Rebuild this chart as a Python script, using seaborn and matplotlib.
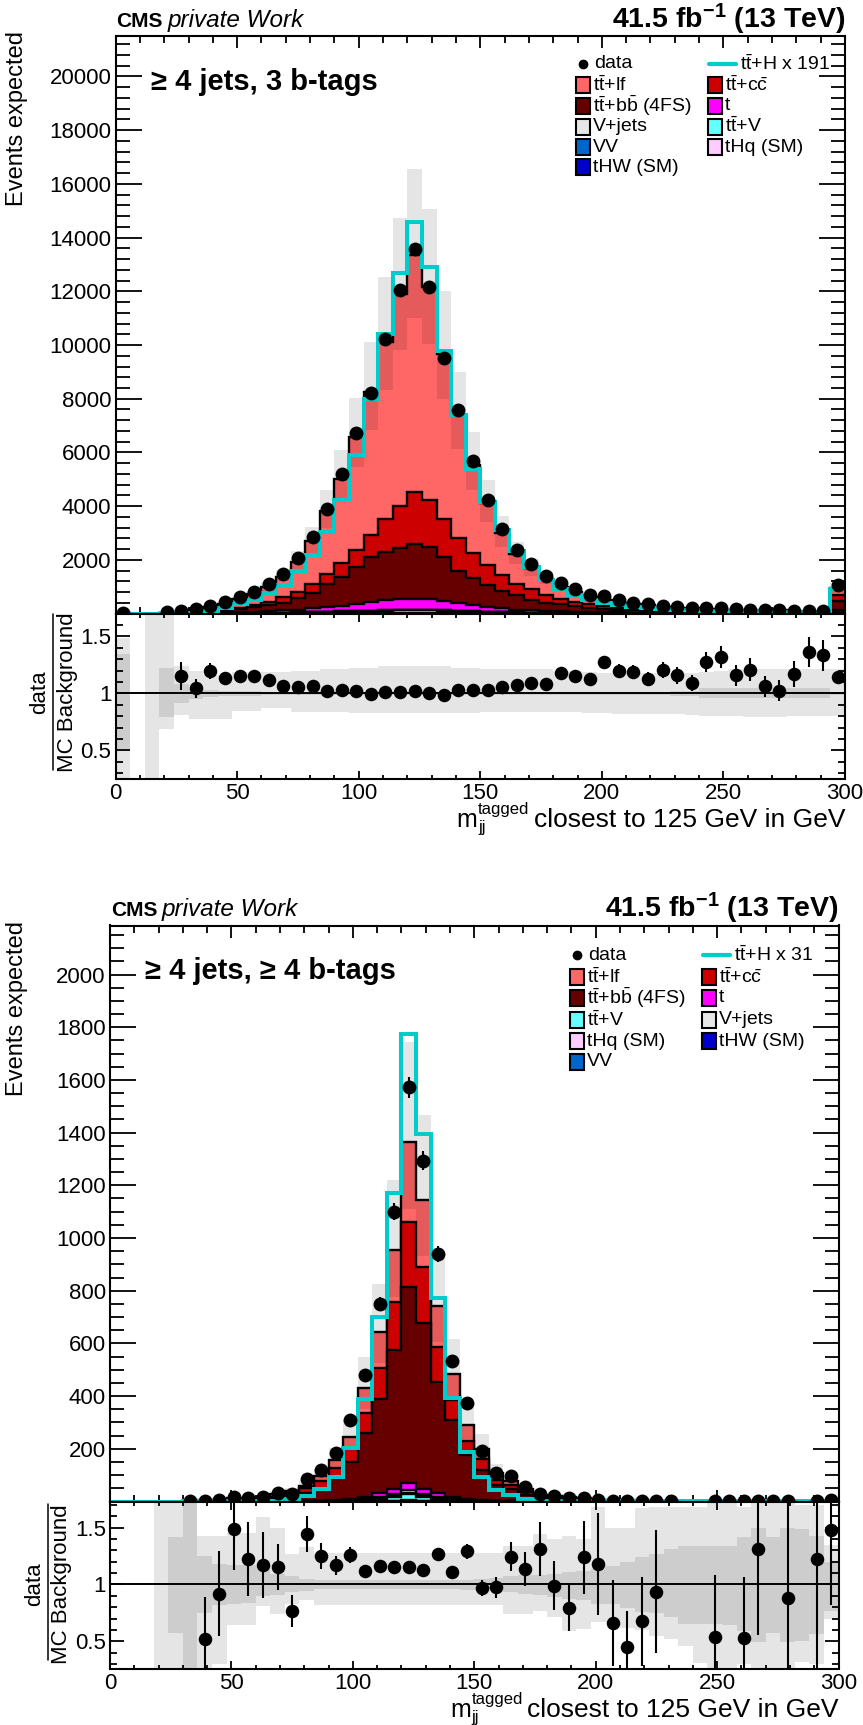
import numpy as np
import matplotlib
matplotlib.use('Agg')
import matplotlib.pyplot as plt
from matplotlib import font_manager
from matplotlib.patches import Rectangle
from matplotlib.ticker import MultipleLocator, FixedLocator, FuncFormatter
import seaborn as sns

sns.set_style('ticks')
names = {f.name for f in font_manager.fontManager.ttflist}
narrow = 'Liberation Sans Narrow' if 'Liberation Sans Narrow' in names else 'Liberation Sans'
plt.rcParams['font.family'] = [narrow, 'DejaVu Sans']
plt.rcParams['mathtext.fontset'] = 'custom'
plt.rcParams['mathtext.rm'] = narrow
plt.rcParams['mathtext.it'] = narrow + ':italic'
plt.rcParams['mathtext.bf'] = narrow + ':bold'
plt.rcParams.update({'axes.edgecolor': 'black', 'xtick.color': 'black', 'ytick.color': 'black',
                     'text.color': 'black', 'axes.labelcolor': 'black'})

edges = np.arange(0, 301, 6)
centers = edges[:-1] + 3.0

# --- >= 4 jets, 3 b-tags ---
data_3b = [12, 0, 0, 50, 90, 160, 285, 420, 607, 818,
           1103, 1462, 2057, 2862, 3878, 5191, 6715, 8227, 10222, 12031,
           13580, 12155, 9528, 7570, 5675, 4213, 3160, 2379, 1834, 1400,
           1152, 905, 706, 644, 496, 409, 347, 285, 248, 225,
           205, 190, 160, 145, 135, 120, 110, 105, 92, 1078]
ttlf_3b = [3, 0, 2, 15, 53, 108, 163, 230, 303, 390,
           553, 771, 1121, 1594, 2328, 3134, 4198, 5328, 6595, 7886,
           8830, 7930, 6167, 4578, 3288, 2306, 1572, 1097, 776, 594,
           422, 352, 280, 231, 190, 154, 147, 96, 94, 101,
           66, 59, 63, 54, 67, 62, 44, 32, 29, 262]
ttcc_3b = [0, 0, 0, 2, 7, 12, 20, 40, 62, 87,
           112, 198, 248, 347, 371, 521, 644, 830, 1201, 1574,
           1933, 1735, 1412, 1202, 905, 725, 580, 440, 390, 290,
           211, 161, 136, 100, 73, 60, 45, 40, 30, 25,
           23, 20, 17, 14, 12, 11, 10, 9, 7, 210]
ttbb_3b = [1, 0, 1, 2, 6, 13, 25, 55, 101, 160,
           227, 289, 420, 566, 853, 1075, 1352, 1664, 1815, 1898,
           2017, 1950, 1614, 1198, 1018, 825, 650, 530, 400, 310,
           262, 203, 151, 121, 105, 90, 79, 68, 61, 54,
           48, 43, 38, 34, 31, 28, 26, 23, 21, 321]
t_3b = [0, 0, 0, 1, 8, 13, 20, 32, 42, 52,
        66, 84, 106, 135, 182, 218, 272, 316, 362, 393,
        418, 403, 356, 293, 232, 178, 133, 104, 83, 70,
        60, 49, 43, 37, 32, 28, 25, 23, 21, 18,
        17, 15, 14, 12, 11, 11, 10, 9, 8, 100]
ttv_3b = [0, 0, 0, 0, 3, 6, 9, 11, 15, 18,
          23, 29, 35, 45, 55, 67, 81, 94, 106, 113,
          117, 113, 102, 88, 72, 58, 47, 37, 30, 24,
          20, 18, 15, 13, 12, 11, 10, 8, 7, 7,
          6, 6, 5, 5, 5, 4, 4, 4, 4, 42]
vjets_3b = [0, 0, 0, 0, 1, 1, 1, 2, 2, 3,
            3, 4, 5, 6, 7, 8, 10, 11, 12, 13,
            14, 13, 12, 11, 9, 7, 6, 5, 4, 3,
            3, 2, 2, 2, 1, 1, 1, 1, 1, 1,
            1, 1, 1, 1, 1, 1, 0, 0, 0, 5]
thq_3b = [0, 0, 0, 0, 0, 0, 0, 0, 1, 1,
          1, 1, 2, 2, 2, 3, 3, 4, 4, 5,
          5, 5, 4, 4, 3, 3, 2, 2, 1, 1,
          1, 1, 0, 0, 0, 0, 0, 0, 0, 0,
          0, 0, 0, 0, 0, 0, 0, 0, 0, 1]
vv_3b = [0, 0, 0, 0, 0, 0, 0, 0, 0, 1,
         1, 1, 1, 1, 2, 2, 2, 2, 3, 3,
         3, 3, 3, 2, 2, 2, 1, 1, 1, 1,
         1, 0, 0, 0, 0, 0, 0, 0, 0, 0,
         0, 0, 0, 0, 0, 0, 0, 0, 0, 1]
thw_3b = [0, 0, 0, 0, 0, 0, 0, 0, 0, 0,
          1, 1, 1, 1, 2, 2, 2, 3, 3, 3,
          3, 3, 3, 2, 2, 2, 1, 1, 1, 1,
          0, 0, 0, 0, 0, 0, 0, 0, 0, 0,
          0, 0, 0, 0, 0, 0, 0, 0, 0, 1]
tth_3b = [0, 0, 0, 0, 12, 37, 99, 223, 359, 508,
          756, 1065, 1598, 2181, 3048, 4225, 5898, 8004, 10420, 12675,
          14571, 12923, 9776, 7384, 5402, 4151, 3098, 2329, 1750, 1239,
          929, 681, 520, 397, 310, 248, 211, 173, 150, 124,
          112, 100, 90, 80, 75, 70, 65, 60, 55, 929]
# relative uncertainty bands (total, stat-only)
up_3b = [1.485, 1, 2, 2, 1.245, 1.195, 1.16, 1.16, 1.19, 1.19,
         1.19, 1.19, 1.2, 1.2, 1.21, 1.21, 1.225, 1.225, 1.24, 1.24,
         1.24, 1.24, 1.24, 1.22, 1.22, 1.215, 1.215, 1.21, 1.21, 1.21,
         1.2, 1.2, 1.19, 1.18, 1.18, 1.18, 1.18, 1.18, 1.18, 1.18,
         1.19, 1.2, 1.21, 1.21, 1.21, 1.21, 1.21, 1.21, 1.21, 1.21]
dn_3b = [0, 1, 0, 0.69, 0.81, 0.78, 0.78, 0.78, 0.85, 0.85,
         0.87, 0.87, 0.84, 0.84, 0.835, 0.835, 0.83, 0.83, 0.825, 0.825,
         0.825, 0.825, 0.825, 0.83, 0.83, 0.835, 0.835, 0.84, 0.84, 0.84,
         0.84, 0.84, 0.83, 0.83, 0.82, 0.82, 0.82, 0.82, 0.82, 0.81,
         0.8, 0.8, 0.8, 0.79, 0.79, 0.79, 0.8, 0.8, 0.8, 0.8]
su_3b = [1.35, 1, 1, 1.22, 1.086, 1.04, 1.03, 1.025, 1.02, 1.02,
         1.015, 1.015, 1.01, 1.01, 1.01, 1.01, 1.01, 1.01, 1.01, 1.01,
         1.01, 1.01, 1.01, 1.01, 1.01, 1.01, 1.01, 1.01, 1.01, 1.01,
         1.01, 1.015, 1.015, 1.015, 1.015, 1.015, 1.015, 1.015, 1.025, 1.025,
         1.05, 1.05, 1.05, 1.05, 1.05, 1.05, 1.05, 1.05, 1.05, 1.015]
sd_3b = [0.51, 1, 1, 0.79, 0.914, 0.955, 0.97, 0.975, 0.98, 0.98,
         0.985, 0.985, 0.99, 0.99, 0.99, 0.99, 0.99, 0.99, 0.99, 0.99,
         0.99, 0.99, 0.99, 0.99, 0.99, 0.99, 0.99, 0.99, 0.99, 0.99,
         0.99, 0.985, 0.985, 0.985, 0.985, 0.985, 0.985, 0.985, 0.975, 0.975,
         0.96, 0.96, 0.96, 0.96, 0.96, 0.96, 0.96, 0.96, 0.96, 0.985]

# --- >= 4 jets, >= 4 b-tags ---
data_4b = [0, 0, 0, 0, 0, 2, 2, 6, 17, 14,
           16, 32, 30, 85, 120, 185, 310, 480, 750, 1100,
           1572, 1294, 938, 534, 375, 193, 107, 95, 55, 30,
           21, 15, 15, 7, 3, 2, 3, 3, 1, 0,
           0, 1, 1, 1, 3, 1, 1, 0, 1, 5]
ttlf_4b = [0, 0, 0, 0, 0, 0.2, 1.4, 2.1, 3.5, 3.1,
           3.8, 11.9, 8.4, 9.4, 16.7, 30.8, 41.2, 94.3, 137.8, 195,
           301, 254, 153.5, 97.8, 59.5, 39.4, 28.3, 14.7, 11.6, 5,
           4.3, 4, 2.6, 1.2, 1.0, 1.0, 1.0, 0.7, 0.1, 0.5,
           0.4, 0.37, 0.1, 0.4, 0.5, 0.1, 0.25, 0.2, 0.19, 0.74]
ttcc_4b = [0, 0, 0, 0, 0, 0.1, 0.7, 1.3, 2.5, 2.5,
           3, 8, 13, 19, 30, 40, 54, 76, 118, 184,
           249, 212, 133, 76, 54, 40, 19, 14, 12, 6,
           5, 4, 2.5, 1.3, 0.9, 0.9, 0.9, 0.6, 0.1, 0.5,
           0.4, 0.4, 0.1, 0.4, 0.5, 0.1, 0.25, 0.2, 0.15, 0.7]
ttbb_4b = [0, 0, 0, 0, 0, 0.2, 1.6, 2.9, 5.1, 5.5,
           6.4, 7.2, 16.8, 29, 47, 83, 142, 241, 357, 529,
           744, 633, 424, 291, 168, 115, 60, 46, 23.8, 11.2,
           11.4, 10.5, 6.6, 3.2, 2.5, 2.4, 2.4, 1.75, 0.15, 1.4,
           1.1, 1.0, 0.1, 1.0, 1.2, 0.1, 0.55, 0.5, 0.4, 1.8]
t_4b = [0, 0, 0, 0, 0, 0, 0.1, 0.15, 0.2, 0.25,
        0.3, 0.4, 0.6, 1, 1.5, 2.5, 4.5, 8, 13, 19,
        27, 19, 13, 8, 4.5, 2.5, 1.5, 1, 0.6, 0.4,
        0.3, 0.25, 0.2, 0.15, 0.1, 0.1, 0.1, 0.1, 0.05, 0.05,
        0.05, 0.05, 0.05, 0.05, 0.05, 0.05, 0.05, 0.05, 0.05, 0.1]
ttv_4b = [0, 0, 0, 0, 0, 0, 0.05, 0.08, 0.1, 0.12,
          0.15, 0.2, 0.3, 0.5, 0.8, 1.3, 2.3, 5, 9, 14,
          21, 14, 9, 5, 2.3, 1.3, 0.8, 0.5, 0.3, 0.2,
          0.15, 0.12, 0.1, 0.08, 0.05, 0.05, 0.05, 0.05, 0.03, 0.03,
          0.03, 0.03, 0.03, 0.03, 0.03, 0.03, 0.03, 0.03, 0.03, 0.05]
thq_4b = [0, 0, 0, 0, 0, 0, 0, 0, 0, 0,
          0, 0, 0, 0, 0, 0.5, 1, 2.5, 4.5, 7,
          9, 7, 4.5, 2.5, 1, 0.5, 0.3, 0.2, 0.1, 0.1,
          0.1, 0.1, 0.1, 0, 0, 0, 0, 0, 0, 0,
          0, 0, 0, 0, 0, 0, 0, 0, 0, 0]
vjets_4b = [0, 0, 0, 0, 0, 0, 0, 0, 0, 0,
            0, 0, 0, 0, 0, 0.3, 0.7, 1.5, 2.5, 3.5,
            6, 3.5, 2.5, 1.5, 0.7, 0.3, 0, 0, 0, 0,
            0, 0, 0, 0, 0, 0, 0, 0, 0, 0,
            0, 0, 0, 0, 0, 0, 0, 0, 0, 0]
vv_4b = [0, 0, 0, 0, 0, 0, 0, 0, 0, 0,
         0, 0, 0, 0, 0, 0, 0, 0.5, 1, 1.5,
         3, 1.5, 1, 0.5, 0, 0, 0, 0, 0, 0,
         0, 0, 0, 0, 0, 0, 0, 0, 0, 0,
         0, 0, 0, 0, 0, 0, 0, 0, 0, 0]
thw_4b = [0, 0, 0, 0, 0, 0, 0, 0, 0, 0,
          0, 0, 0, 0, 0, 0, 0, 0.5, 1, 1,
          3, 1, 1, 0.5, 0, 0, 0, 0, 0, 0,
          0, 0, 0, 0, 0, 0, 0, 0, 0, 0,
          0, 0, 0, 0, 0, 0, 0, 0, 0, 0]
tth_4b = [0, 0, 0, 0, 0, 0.3, 0.4, 0.5, 0.7, 1,
          1.5, 2, 9, 21, 46, 94, 202, 388, 701, 1172,
          1773, 1393, 771, 394, 186, 92, 44, 25, 9, 3,
          2, 1.5, 1, 1, 0.8, 0.6, 0.5, 0.5, 0.5, 0.5,
          0.5, 0.5, 0.5, 0.5, 0.5, 0.5, 0.5, 0.5, 0.5, 0.5]
up_4b = [1, 1, 1, 2, 2, 2, 1.43, 1.43, 1.45, 1.45,
         1.59, 1.5, 1.27, 1.33, 1.28, 1.28, 1.28, 1.28, 1.28, 1.28,
         1.28, 1.28, 1.28, 1.28, 1.28, 1.28, 1.28, 1.34, 1.34, 1.44,
         1.40, 1.43, 1.40, 1.68, 1.5, 1.5, 1.67, 1.68, 1.68, 1.68,
         1.68, 2, 2, 1.68, 2, 2, 2, 1.7, 1.7, 1.35]
dn_4b = [1, 1, 1, 0, 0, 0, 0, 0.3, 0.64, 0.64,
         0.81, 0.74, 0.83, 0.86, 0.815, 0.815, 0.815, 0.815, 0.815, 0.815,
         0.815, 0.815, 0.815, 0.815, 0.815, 0.815, 0.815, 0.74, 0.74, 0.77,
         0.71, 0.59, 0.61, 0.67, 0.67, 0.62, 0.6, 0.55, 0.52, 0.46,
         0.31, 0, 0, 0.3, 0, 0, 0, 0.32, 0.3, 0.7]
su_4b = [1, 1, 1, 1, 1.42, 2, 1.25, 1.18, 1.17, 1.17,
         1.15, 1.09, 1.07, 1.05, 1.035, 1.035, 1.035, 1.035, 1.035, 1.035,
         1.035, 1.035, 1.035, 1.035, 1.04, 1.045, 1.06, 1.07, 1.08, 1.08,
         1.09, 1.11, 1.12, 1.14, 1.16, 1.2, 1.24, 1.27, 1.31, 1.34,
         1.34, 1.34, 1.34, 1.42, 1.5, 1.42, 1.5, 1.49, 1.43, 1.2]
sd_4b = [1, 1, 1, 1, 0.57, 0, 0.75, 0.82, 0.83, 0.84,
         0.9, 0.91, 0.93, 0.94, 0.96, 0.96, 0.96, 0.96, 0.96, 0.96,
         0.96, 0.96, 0.96, 0.96, 0.955, 0.95, 0.94, 0.93, 0.92, 0.91,
         0.89, 0.87, 0.86, 0.83, 0.83, 0.79, 0.76, 0.75, 0.71, 0.65,
         0.65, 0.65, 0.64, 0.59, 0.49, 0.57, 0.49, 0.5, 0.56, 0.77]

colors = {'ttlf': '#ff6666', 'ttcc': '#cc0000', 'ttbb': '#660000', 't': '#ff00ff',
          'ttv': '#66ffff', 'vjets': '#e6e6e6', 'thq': '#ffccff', 'vv': '#0066cc',
          'thw': '#0000cc'}
order = ['thw', 'vv', 'ttv', 'vjets', 'thq', 't', 'ttbb', 'ttcc', 'ttlf']
labels = {'ttlf': r'$\mathrm{t\bar{t}}$+lf', 'ttcc': r'$\mathrm{t\bar{t}}$+$\mathrm{c\bar{c}}$',
          'ttbb': r'$\mathrm{t\bar{t}}$+$\mathrm{b\bar{b}}$ (4FS)', 't': 't',
          'ttv': r'$\mathrm{t\bar{t}}$+V', 'vjets': 'V+jets', 'thq': 'tHq (SM)',
          'vv': 'VV', 'thw': 'tHW (SM)'}
CYAN = '#00cccc'


def draw_panel(ax, rax, comps, tth, data, up, dn, su, sd, ymax, ystep, yminor, rlim):
    run = np.zeros(len(centers))
    cum = []
    for name in order:
        run = run + np.asarray(comps[name], float)
        cum.append((name, run.copy()))
    total = run
    # ROOT-like stack: draw cumulative histograms from the top one down
    for j, (name, top) in enumerate(reversed(cum)):
        z = 2 + 0.01 * j
        ax.stairs(top, edges, baseline=0, fill=True, color=colors[name], lw=0, zorder=z)
        ax.stairs(top, edges, baseline=None, color='black', lw=1.7, zorder=z + 0.005)
    up = np.asarray(up, float); dn = np.asarray(dn, float)
    ax.stairs(total * up, edges, baseline=total * dn, fill=True, color=(0, 0, 0, 0.1),
              lw=0, zorder=4)
    ax.stairs(np.asarray(tth, float), edges, baseline=None, color=CYAN, lw=2.9, zorder=5)
    data = np.asarray(data, float)
    m = data > 0
    ax.errorbar(centers[m], data[m], yerr=np.sqrt(data[m]), fmt='none', ecolor='black',
                elinewidth=1.5, zorder=6)
    sns.scatterplot(x=centers[m], y=data[m], ax=ax, color='black', s=100, linewidth=0,
                    zorder=7, legend=False)

    # ratio pad
    rax.stairs(up, edges, baseline=dn, fill=True, color=(0, 0, 0, 0.1), lw=0, zorder=1)
    rax.stairs(np.asarray(su, float), edges, baseline=np.asarray(sd, float), fill=True,
               color=(0, 0, 0, 0.1), lw=0, zorder=1.1)
    rax.axhline(1, color='black', lw=1.4, zorder=2)
    with np.errstate(divide='ignore', invalid='ignore'):
        ratio = np.where(total > 0, data / total, np.nan)
        rerr = np.where(total > 0, np.sqrt(data) / total, np.nan)
    k = m & (ratio > rlim[0]) & (ratio < rlim[1])
    rax.errorbar(centers[k], ratio[k], yerr=rerr[k], fmt='none', ecolor='black',
                 elinewidth=1.5, zorder=3)
    sns.scatterplot(x=centers[k], y=ratio[k], ax=rax, color='black', s=95, linewidth=0,
                    zorder=4, legend=False)

    # axes styling
    ax.set_xlim(0, 300); ax.set_ylim(0, ymax)
    rax.set_xlim(0, 300); rax.set_ylim(*rlim)
    for a in (ax, rax):
        a.set_xlabel(''); a.set_ylabel('')
        for s in a.spines.values():
            s.set_linewidth(1.5); s.set_color('black'); s.set_zorder(10)
        a.xaxis.set_major_locator(MultipleLocator(50))
        a.xaxis.set_minor_locator(MultipleLocator(10))
        a.tick_params(which='both', direction='in', top=True, right=True, width=1.3,
                      labelsize=16)
    ax.yaxis.set_major_locator(MultipleLocator(ystep))
    ax.yaxis.set_minor_locator(MultipleLocator(yminor))
    ax.yaxis.set_major_formatter(FuncFormatter(lambda v, p: '' if v == 0 else f'{v:g}'))
    ax.tick_params(axis='x', labelbottom=False)
    ax.tick_params(axis='y', which='major', length=18.7, pad=3)
    ax.tick_params(axis='y', which='minor', length=9.8)
    ax.tick_params(axis='x', which='major', length=8.6)
    ax.tick_params(axis='x', which='minor', length=4.7)
    rax.yaxis.set_major_locator(FixedLocator([0.5, 1.0, 1.5]))
    rax.yaxis.set_minor_locator(MultipleLocator(0.1))
    rax.yaxis.set_major_formatter(FuncFormatter(lambda v, p: f'{v:g}'))
    rax.tick_params(axis='y', which='major', length=10, pad=3)
    rax.tick_params(axis='y', which='minor', length=5)
    rax.tick_params(axis='x', which='major', length=5.8, pad=3)
    rax.tick_params(axis='x', which='minor', length=2.9)


fig = plt.figure(figsize=(8.63, 17.25), dpi=100)
W, H = 863.0, 1725.0


def add_ax(x0, x1, ytop, ybot):
    return fig.add_axes([x0 / W, 1 - ybot / H, (x1 - x0) / W, (ybot - ytop) / H])


ax1 = add_ax(115.6, 845.0, 36.2, 613.6)
rax1 = add_ax(115.6, 845.0, 613.6, 779.0)
ax2 = add_ax(110.0, 838.5, 925.5, 1501.5)
rax2 = add_ax(110.0, 838.5, 1501.5, 1668.5)

comps_3b = {'ttlf': ttlf_3b, 'ttcc': ttcc_3b, 'ttbb': ttbb_3b, 't': t_3b, 'ttv': ttv_3b,
            'vjets': vjets_3b, 'thq': thq_3b, 'vv': vv_3b, 'thw': thw_3b}
comps_4b = {'ttlf': ttlf_4b, 'ttcc': ttcc_4b, 'ttbb': ttbb_4b, 't': t_4b, 'ttv': ttv_4b,
            'vjets': vjets_4b, 'thq': thq_4b, 'vv': vv_4b, 'thw': thw_4b}
draw_panel(ax1, rax1, comps_3b, tth_3b, data_3b, up_3b, dn_3b, su_3b, sd_3b,
           21500, 2000, 400, (0.25, 1.7))
draw_panel(ax2, rax2, comps_4b, tth_4b, data_4b, up_4b, dn_4b, su_4b, sd_4b,
           2186, 200, 50, (0.26, 1.73))

# overlay in pixel coordinates for titles, labels and legends
ov = fig.add_axes([0, 0, 1, 1], zorder=20)
ov.set_xlim(0, W); ov.set_ylim(H, 0); ov.axis('off')
regular = ['Liberation Sans', 'DejaVu Sans']
renderer = fig.canvas.get_renderer()

legend_cols = {
    '191': (['data', 'ttlf', 'ttbb', 'vjets', 'vv', 'thw'],
            ['tth', 'ttcc', 't', 'ttv', 'thq']),
    '31': (['data', 'ttlf', 'ttbb', 'ttv', 'thq', 'vv'],
           ['tth', 'ttcc', 't', 'vjets', 'thw']),
}


def xlabel(x1, base):
    main = ov.text(x1, base, 'closest to 125 GeV in GeV', fontsize=19, ha='right',
                   va='baseline')
    xl = main.get_window_extent(renderer).x0
    sup = ov.text(xl - 4, base - 13, 'tagged', fontsize=12, ha='right', va='baseline')
    xs = sup.get_window_extent(renderer).x0
    ov.text(xs, base + 5, 'jj', fontsize=12, ha='left', va='baseline')
    ov.text(xs - 1, base, 'm', fontsize=18, ha='right', va='baseline')


def decorate(x0, x1, ytop, rmid, rtop, rbot, region, y_region, xl_y, fr_x, legend_spec):
    ov.text(x0 + 1, ytop - 9.5, 'CMS', fontsize=15, fontweight='bold', va='baseline')
    ov.text(x0 + 52, ytop - 9.5, 'private Work', fontsize=17.5, style='italic',
            va='baseline')
    ov.text(x1, ytop - 8, r'41.5 fb$^{\mathbf{-1}}$ (13 TeV)', fontsize=20.5,
            fontweight='bold', ha='right', va='baseline')
    ov.text(x0 + 35, y_region, region, fontsize=21, fontweight='bold', va='center')
    ov.text(17, ytop - 5, 'Events expected', fontsize=17, rotation=90, ha='center',
            va='top', family=regular)
    ov.text(fr_x - 13, rmid, 'data', fontsize=16, rotation=90, ha='center', va='center',
            family=regular)
    ov.plot([fr_x, fr_x], [rtop, rbot], color='black', lw=1.1)
    ov.text(fr_x + 14, rmid, 'MC Background', fontsize=16, rotation=90, ha='center',
            va='center', family=regular)
    xlabel(x1, xl_y)
    bx1, bx2, rows, tth_label = legend_spec
    for col, bx in ((0, bx1), (1, bx2)):
        for row, name in enumerate(legend_cols[tth_label][col]):
            y = rows[row]
            if name == 'data':
                ov.plot(bx + 7, y, 'o', ms=6, color='black')
                ov.text(bx + 18, y, 'data', fontsize=14, va='center')
            elif name == 'tth':
                ov.plot([bx + 1, bx + 28], [y, y], color=CYAN, lw=3)
                ov.text(bx + 32, y, r'$\mathrm{t\bar{t}}$+H x ' + tth_label, fontsize=14,
                        va='center')
            else:
                ov.add_patch(Rectangle((bx, y - 8), 14, 16, facecolor=colors[name],
                                       edgecolor='black', lw=1.5))
                ov.text(bx + 17, y, labels[name], fontsize=14, va='center')


decorate(115.6, 845.0, 36.2, 692, 614, 770, '\u2265 4 jets, 3 b-tags', 82, 827, 53,
         (576, 708, [64, 85, 105.5, 126.5, 147, 167], '191'))
decorate(110.0, 838.5, 925.5, 1584, 1504, 1660, '\u2265 4 jets, \u2265 4 b-tags', 971,
         1717, 47.5, (570, 702, [955, 977, 998, 1020, 1041, 1062], '31'))

fig.savefig('out.png', dpi=100)
